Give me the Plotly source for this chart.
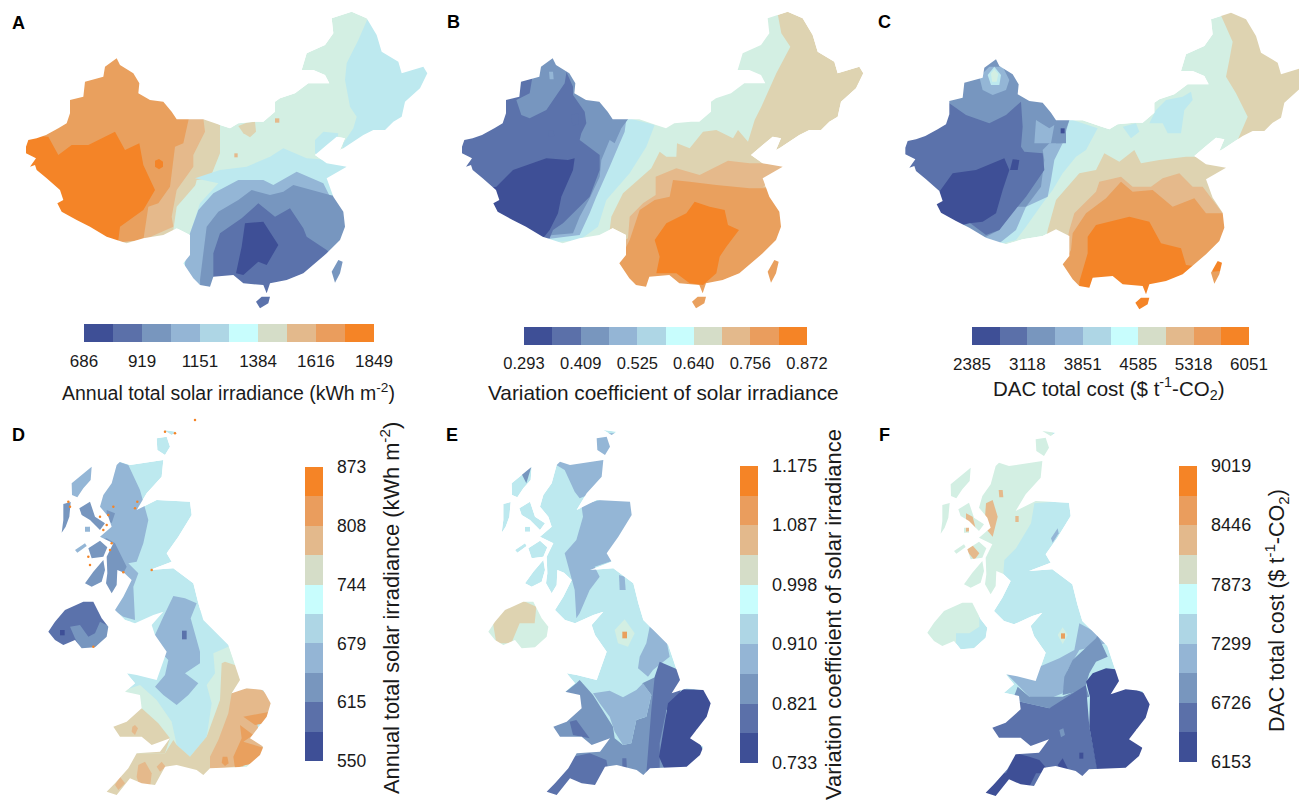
import plotly.graph_objects as go

MAP_COLORS = ["#3e4f96", "#5b72ab", "#7796bf", "#94b6d6", "#bde9ef", "#d3efe3", "#ded3b1", "#e5b98b", "#e9a05e", "#f48427"]
BAR_COLORS = ["#3e4f96", "#5b70a9", "#7896be", "#94b5d5", "#aed6e5", "#c8fdfd", "#d5ddc8", "#e3b98c", "#ea9d5d", "#f58426"]
TICKS_A = [686, 919, 1151, 1384, 1616, 1849]
TICKS_B = ["0.293", "0.409", "0.525", "0.640", "0.756", "0.872"]
TICKS_C = [2385, 3118, 3851, 4585, 5318, 6051]
TICKS_D = [550, 615, 679, 744, 808, 873]
TICKS_E = ["0.733", "0.821", "0.910", "0.998", "1.087", "1.175"]
TICKS_F = [6153, 6726, 7299, 7873, 8446, 9019]

CHINA_MAIN = [(78,440),(85,420),(110,415),(138,405),(175,385),(200,370),(210,340),(210,300),(250,290),(255,245),(310,230),(315,200),(350,175),(360,195),(400,220),(418,250),(415,280),(450,300),(490,305),(515,335),(530,358),(570,358),(610,358),(660,375),(690,385),(715,370),(765,365),(790,365),(825,335),(825,305),(840,295),(885,280),(925,250),(988,250),(975,225),(940,210),(905,210),(920,160),(975,135),(1000,100),(995,55),(1055,35),(1100,55),(1130,105),(1145,155),(1195,185),(1205,220),(1270,200),(1282,220),(1260,265),(1215,305),(1205,350),(1180,365),(1155,390),(1120,390),(1090,405),(1030,445),(1020,450),(1035,415),(1010,410),(980,435),(945,465),(980,490),(1040,500),(980,535),(1000,590),(1030,635),(1035,680),(1020,720),(980,760),(910,820),(860,840),(810,850),(800,880),(790,855),(730,850),(700,825),(640,830),(630,860),(600,855),(580,835),(550,790),(570,765),(570,705),(530,685),(490,705),(430,715),(380,730),(350,720),(320,710),(270,680),(230,660),(185,635),(172,610),(190,600),(180,570),(140,535),(110,510),(105,495),(90,500),(108,475),(78,460)]
CHINA_HAINAN = [(768,905),(785,890),(810,890),(805,910),(780,925)]
CHINA_TAIWAN = [(995,815),(1015,780),(1028,785),(1020,820),(1005,848)]
CHINA = [CHINA_MAIN, CHINA_HAINAN, CHINA_TAIWAN]

UK_MAIN = [(360,155),(390,165),(490,150),(485,200),(440,250),(410,300),(470,270),(570,275),(575,315),(535,380),(500,430),(515,455),(450,480),(520,475),(580,520),(595,580),(610,630),(685,705),(705,765),(720,810),(695,850),(740,835),(790,840),(812,880),(800,920),(765,965),(750,985),(790,1010),(780,1035),(740,1070),(630,1075),(610,1095),(590,1080),(530,1065),(495,1070),(465,1125),(425,1120),(390,1105),(350,1155),(320,1145),(345,1120),(385,1075),(410,1030),(480,1025),(510,985),(455,1005),(425,980),(360,980),(340,950),(380,935),(425,895),(420,855),(375,845),(405,820),(380,790),(410,795),(470,810),(500,725),(465,675),(455,645),(490,605),(460,615),(405,640),(375,630),(345,600),(370,560),(395,510),(372,488),(352,480),(350,525),(335,550),(318,520),(322,490),(320,440),(340,400),(300,380),(335,350),(325,320),(300,290),(310,255),(335,220),(350,165)]
UK_NI = [(145,665),(165,635),(195,600),(250,575),(280,575),(305,625),(325,650),(320,680),(285,712),(245,715),(225,690),(190,705),(165,690)]
UK_OUTER_HEB = [(190,282),(212,276),(208,320),(197,350),(185,368),(190,330)]
UK_SKYE = [(238,295),(270,275),(285,320),(315,340),(300,360),(270,330),(245,315)]
UK_MULL = [(265,415),(300,392),(322,412),(310,440),(275,445)]
UK_ISLET = [(225,420),(255,400),(260,408),(232,428)]
UK_RUM = [(255,350),(270,350),(270,365),(255,365)]
UK_JURA = [(255,520),(280,485),(310,450),(315,480),(305,515),(275,530)]
UK_LEWIS = [(215,220),(245,195),(275,170),(272,210),(250,235),(232,262),(216,255)]
UK_ORKNEY = [(470,85),(500,80),(510,110),(495,135),(472,120)]
UK_SHETLAND = [(490,60),(530,65),(515,75)]
UK = [UK_MAIN, UK_NI, UK_OUTER_HEB, UK_SKYE, UK_MULL, UK_ISLET, UK_RUM, UK_JURA, UK_LEWIS, UK_ORKNEY, UK_SHETLAND]

REGIONS_A = [
 (4,[(1110,40),(1340,40),(1340,460),(1025,460),(1030,430),(1060,385),(1070,350),(1050,320),(1035,240),(1040,190),(1075,120)]),
 (4,[(945,460),(945,420),(970,395),(1015,400),(1010,430),(970,470)]),
 (6,[(715,378),(740,368),(765,365),(768,395),(750,412),(730,400)]),
 (7,[(825,355),(838,355),(838,368),(825,368)]),
 (7,[(703,460),(713,460),(713,472),(703,472)]),
 (6,[(615,350),(660,375),(660,460),(630,535),(590,540),(570,620),(550,650),(525,655),(525,690),(400,760),(0,760),(0,340)]),
 (7,[(575,350),(610,355),(615,395),(580,465),(580,500),(530,570),(515,650),(520,680),(430,720),(0,760),(0,340)]),
 (8,[(570,340),(550,430),(525,440),(510,560),(475,610),(445,620),(430,720),(0,760),(0,100),(570,100)]),
 (9,[(0,400),(145,410),(175,465),(215,435),(265,435),(345,395),(375,450),(418,430),(430,495),(465,570),(430,630),(360,680),(350,760),(0,760)]),
 (9,[(465,482),(477,477),(489,485),(489,500),(477,508),(465,500)]),
 (4,[(585,535),(660,510),(740,500),(810,470),(850,445),(920,475),(990,480),(1040,495),(1060,950),(540,950),(550,790),(570,700),(600,610),(655,550)]),
 (5,[(530,620),(600,540),(590,620),(555,680),(520,690)]),
 (3,[(595,630),(640,580),(715,540),(790,540),(820,555),(890,515),(970,550),(990,590),(1060,620),(1060,950),(555,950),(555,790),(570,700)]),
 (2,[(620,680),(655,635),(715,600),(755,570),(810,585),(850,575),(880,555),(990,585),(1060,600),(1060,950),(605,950),(600,840)]),
 (1,[(640,760),(660,700),(725,655),(775,610),(825,650),(870,625),(910,685),(920,710),(980,750),(1000,770),(900,950),(640,950),(640,830)]),
 (0,[(735,670),(790,665),(835,735),(800,795),(775,785),(730,825),(708,820),(725,740)]),
]
REGIONS_B = [
 (5,[(1030,20),(1045,100),(1072,140),(1030,220),(985,320),(965,360),(945,425),(915,390),(900,415),(850,390),(810,395),(770,445),(732,430),(730,470),(700,470),(680,455),(655,505),(570,580),(535,650),(530,690),(400,760),(0,760),(0,0),(1030,0)]),
 (4,[(588,355),(665,375),(640,440),(590,520),(520,600),(495,680),(440,720),(0,760),(0,0),(588,0)]),
 (3,[(580,358),(575,395),(560,430),(530,500),(490,590),(470,640),(440,705),(0,760),(0,0),(580,0)]),
 (2,[(585,358),(565,385),(545,430),(530,420),(505,480),(500,530),(470,595),(440,650),(420,700),(360,705),(0,760),(0,0),(585,0)]),
 (1,[(0,0),(400,0),(400,215),(420,260),(420,285),(455,335),(460,370),(445,400),(440,420),(500,465),(500,510),(470,590),(390,670),(360,690),(350,715),(0,760)]),
 (2,[(250,300),(290,280),(300,220),(330,100),(420,100),(395,250),(340,330),(290,355),(265,345)]),
 (3,[(348,215),(360,215),(362,238),(350,238)]),
 (1,[(415,345),(435,340),(438,372),(418,378)]),
 (1,[(346,392),(362,392),(364,410),(348,410)]),
 (1,[(348,458),(362,458),(362,480),(348,480)]),
 (0,[(120,570),(190,560),(240,510),(340,475),(405,480),(425,475),(420,510),(385,590),(375,640),(350,690),(330,715),(0,760)]),
 (7,[(585,715),(590,650),(630,610),(668,585),(668,530),(730,505),(800,525),(885,482),(950,490),(1050,490),(1050,520),(990,560),(1100,560),(1100,950),(540,950),(540,740)]),
 (8,[(720,540),(770,545),(850,555),(950,565),(1000,565),(1100,600),(1100,950),(540,950),(555,790),(590,720),(620,630),(665,600),(710,590)]),
 (9,[(665,720),(700,670),(760,640),(785,605),(830,620),(875,630),(885,675),(918,690),(880,740),(860,770),(850,820),(810,855),(770,850),(730,820),(670,820),(680,770)]),
]
REGIONS_C = [
 (4,[(870,330),(900,300),(950,290),(975,275),(980,300),(955,330),(945,400),(905,400),(890,370),(850,370)]),
 (4,[(770,380),(810,370),(820,395),(795,415)]),
 (6,[(1060,35),(1100,125),(1090,180),(1080,230),(1110,280),(1145,350),(1115,420),(1140,440),(1340,440),(1340,0),(1060,0)]),
 (6,[(545,690),(570,600),(640,520),(690,510),(715,460),(760,485),(805,450),(825,490),(880,480),(960,470),(1000,470),(1100,490),(1100,950),(500,950)]),
 (4,[(620,360),(695,385),(660,450),(630,470),(590,520),(560,570),(530,610),(480,680),(450,720),(300,760),(0,760),(0,0),(620,0)]),
 (3,[(610,360),(590,430),(565,480),(555,540),(545,590),(480,620),(450,690),(400,730),(0,760),(0,0),(610,0)]),
 (2,[(610,360),(585,430),(550,430),(530,450),(535,480),(525,560),(480,620),(450,620),(400,690),(360,710),(0,760),(0,0),(610,0)]),
 (3,[(510,360),(550,385),(565,375),(555,430),(505,430)]),
 (1,[(0,300),(250,310),(300,345),(370,370),(420,345),(465,305),(470,380),(465,440),(475,455),(530,460),(535,510),(480,590),(455,620),(400,690),(360,705),(300,660),(0,600)]),
 (3,[(340,230),(370,200),(410,200),(430,240),(420,270),(380,285),(350,270)]),
 (4,[(365,225),(385,200),(405,225),(400,255),(375,255)]),
 (5,[(375,220),(385,208),(397,222),(392,245),(378,245)]),
 (2,[(570,400),(600,365),(600,430),(570,430)]),
 (0,[(584,385),(596,385),(596,400),(584,400)]),
 (0,[(220,575),(260,520),(330,510),(415,475),(430,510),(410,570),(390,640),(350,665),(310,670),(270,680),(210,640),(100,580)]),
 (0,[(432,510),(440,478),(460,480),(455,510)]),
 (7,[(610,690),(625,640),(690,575),(700,545),(765,530),(800,560),(855,560),(890,535),(940,520),(980,560),(1010,560),(1070,640),(1100,950),(560,950)]),
 (8,[(590,795),(615,750),(620,700),(660,640),(720,595),(765,545),(800,575),(860,570),(920,620),(985,595),(1020,640),(1075,640),(1100,950),(550,950)]),
 (9,[(640,845),(665,760),(665,710),(690,675),(790,650),(850,665),(885,730),(945,745),(960,795),(1000,800),(950,840),(880,950),(640,950)]),
 (9,[(1040,790),(1090,770),(1090,810),(1040,815)]),
]
REGIONS_D = [
 (5,[(685,705),(720,800),(750,1100),(300,1180),(300,850),(375,840),(420,825)]),
 (4,[(385,790),(420,825),(470,870),(515,935),(530,1005),(570,1040),(620,980),(635,880),(620,825),(645,790),(640,730),(685,710),(700,600),(400,600),(380,700)]),
 (6,[(425,895),(475,940),(510,985),(495,1030),(400,1030),(320,1000),(320,940)]),
 (6,[(675,755),(720,770),(730,810),(695,850),(730,1030),(730,1180),(300,1180),(300,1130),(405,1030),(495,1030),(520,990),(530,1005),(570,1040),(620,980),(660,870),(665,760)]),
 (7,[(695,850),(720,835),(780,835),(820,870),(810,920),(770,935),(790,1020),(770,1060),(630,1080),(630,1040),(655,990),(685,910)]),
 (7,[(415,1065),(435,1055),(455,1090),(450,1135),(420,1135),(410,1100)]),
 (7,[(360,1100),(375,1120),(355,1140),(345,1125)]),
 (7,[(470,1070),(485,1055),(497,1070),(480,1085)]),
 (7,[(397,950),(405,945),(414,955),(405,975),(395,965)]),
 (8,[(730,920),(810,905),(795,940),(765,945)]),
 (8,[(720,945),(760,975),(730,995),(795,1015),(770,1055),(705,1075),(700,1040),(725,985)]),
 (8,[(668,1040),(682,1040),(686,1060),(675,1068),(665,1058)]),
 (3,[(340,150),(385,165),(420,240),(445,330),(430,400),(410,455),(385,460),(415,490),(400,530),(405,630),(370,620),(340,600),(200,600),(150,300),(180,150)]),
 (2,[(230,270),(290,270),(320,345),(300,365),(230,330)]),
 (2,[(180,270),(220,270),(215,370),(180,370)]),
 (2,[(250,535),(260,400),(320,385),(345,400),(380,470),(370,490),(345,555),(310,555)]),
 (2,[(320,300),(345,310),(335,340),(320,330)]),
 (3,[(520,558),(555,565),(590,580),(572,625),(600,725),(600,760),(555,790),(595,820),(565,855),(530,885),(490,855),(465,830),(495,795),(505,750),(485,730),(465,675),(490,620)]),
 (1,[(546,662),(560,662),(560,688),(546,688)]),
 (1,[(130,720),(130,560),(340,560),(340,720)]),
 (2,[(210,650),(240,645),(265,680),(285,670),(300,635),(330,650),(330,720),(245,720),(225,685)]),
 (0,[(180,660),(194,660),(194,676),(180,676)]),
]
REGIONS_E = [
 (3,[(370,165),(395,180),(425,245),(440,265),(530,230),(520,140),(370,140)]),
 (3,[(445,285),(520,265),(620,265),(610,360),(545,450),(485,470),(500,500),(470,540),(440,610),(430,625),(425,540),(395,430),(430,390),(450,320)]),
 (3,[(480,70),(550,70),(540,140),(480,140)]),
 (2,[(265,190),(295,170),(280,220)]),
 (3,[(558,495),(575,500),(578,540),(560,540)]),
 (5,[(150,560),(350,560),(350,720),(150,720)]),
 (6,[(180,640),(210,600),(270,572),(310,590),(305,640),(260,640),(235,700),(190,700)]),
 (5,[(545,660),(575,628),(605,670),(585,710),(555,700)]),
 (8,[(568,665),(582,665),(582,685),(568,685)]),
 (3,[(650,650),(700,690),(710,740),(660,780),(645,800),(615,775),(620,740),(640,700)]),
 (2,[(430,820),(440,810),(480,855),(540,950),(545,985),(570,1005),(595,1000),(610,930),(640,920),(655,855),(628,820),(700,785),(700,1110),(520,1110),(330,1090),(330,900)]),
 (3,[(480,850),(530,842),(570,862),(610,840),(630,820),(655,855),(640,920),(610,930),(595,1000),(570,1005),(545,965),(530,920),(500,880)]),
 (1,[(680,755),(760,790),(730,880),(700,900),(680,1000),(680,1090),(640,1090),(655,900),(665,800)]),
 (1,[(420,1040),(470,1030),(520,1050),(525,1075),(515,1095),(510,1160),(440,1165),(400,1180),(320,1170),(350,1110),(400,1080)]),
 (1,[(410,935),(430,930),(470,985),(420,975)]),
 (1,[(568,1045),(580,1045),(582,1080),(568,1082)]),
 (0,[(705,880),(750,838),(850,840),(850,920),(790,960),(800,1000),(830,1060),(700,1090),(678,1040)]),
]
REGIONS_F = [
 (5,[(150,60),(560,60),(560,275),(505,280),(495,340),(450,415),(415,450),(410,520),(380,560),(340,590),(150,560)]),
 (5,[(170,560),(340,560),(340,650),(310,670),(270,670),(270,730),(170,730)]),
 (7,[(360,280),(380,270),(395,320),(380,380),(355,350)]),
 (7,[(300,310),(320,320),(330,360),(300,365)]),
 (7,[(310,395),(340,430),(325,450),(300,420)]),
 (7,[(398,240),(410,240),(412,262),(400,262)]),
 (7,[(448,318),(458,318),(458,336),(448,336)]),
 (5,[(575,675),(590,652),(605,675),(590,702)]),
 (8,[(585,670),(597,670),(597,686),(585,686)]),
 (3,[(640,640),(695,670),(720,700),(640,720),(605,780),(590,850),(540,870),(490,860),(450,820),(400,770),(520,770),(580,745),(625,720)]),
 (2,[(695,675),(725,740),(690,755),(670,790),(655,840),(590,855),(595,800),(620,750),(690,685)]),
 (2,[(455,830),(490,860),(590,860),(660,830),(670,860),(550,895),(440,870)]),
 (3,[(555,385),(575,355),(578,370),(560,398)]),
 (1,[(370,950),(440,870),(550,895),(660,825),(670,950),(695,1080),(610,1120),(300,1200),(300,1000)]),
 (0,[(660,815),(680,790),(720,775),(770,780),(770,830),(800,835),(860,860),(860,930),(810,960),(840,1040),(760,1090),(695,1090),(670,950),(672,860)]),
 (0,[(420,1090),(450,1030),(490,1040),(520,1050),(555,1090),(510,1090),(480,1150),(440,1150),(390,1180),(320,1180),(350,1130),(400,1090)]),
 (0,[(575,1065),(590,1045),(605,1075),(590,1100)]),
 (0,[(640,1028),(652,1028),(652,1046),(640,1046)]),
 (2,[(580,960),(592,955),(597,975),(585,982)]),
]
SPECKLE_D_X = [495,525,412,405,340,325,310,265,205,335,300,320,370,455,270,210,585,280,330]
SPECKLE_D_Y = [65,70,275,295,290,315,360,440,275,400,320,345,487,480,465,290,30,710,420]

FONT = "Liberation Sans, Arial, sans-serif"
W, H = 1299, 800
PANELS = [
 dict(px=0,   py=0,   w=433, h=410, shape=CHINA, dx=0,  dy=0, base=5, regions=REGIONS_A),
 dict(px=433, py=0,   w=433, h=410, shape=CHINA, dx=9,  dy=0, base=6, regions=REGIONS_B),
 dict(px=866, py=0,   w=433, h=410, shape=CHINA, dx=40, dy=3, base=5, regions=REGIONS_C),
 dict(px=0,   py=410, w=433, h=390, shape=UK,    dx=0,  dy=0, base=4, regions=REGIONS_D),
 dict(px=433, py=410, w=433, h=390, shape=UK,    dx=21, dy=0, base=4, regions=REGIONS_E),
 dict(px=866, py=410, w=433, h=390, shape=UK,    dx=39, dy=3, base=4, regions=REGIONS_F),
]
BARS = [
 dict(ticks=TICKS_A, x=84,   y=324, length=290, h=True,  size=17),
 dict(ticks=TICKS_B, x=524,  y=327, length=283, h=True,  size=16.5),
 dict(ticks=TICKS_C, x=972,  y=327, length=277, h=True,  size=17),
 dict(ticks=TICKS_D, x=305,  y=467, length=294, h=False, size=17.5),
 dict(ticks=TICKS_E, x=740,  y=466, length=297, h=False, size=18),
 dict(ticks=TICKS_F, x=1179, y=466, length=296, h=False, size=18),
]
TITLES = [
 ("Annual total solar irradiance (kWh m<sup>-2</sup>)", 228, 392, 0, 19.5),
 ("Variation coefficient of solar irradiance", 663, 392, 0, 20.8),
 ("DAC total cost ($ t<sup>-1</sup>-CO<sub>2</sub>)", 1109, 388, 0, 20.5),
 ("Annual total solar irradiance (kWh m<sup>-2</sup>)", 390, 608, -90, 21.8),
 ("Variation coefficient of solar irradiance", 833, 615, -90, 22),
 ("DAC total cost ($ t<sup>-1</sup>-CO<sub>2</sub>)", 1276, 611, -90, 21.5),
]
LETTERS = [("A",18,23),("B",453,22),("C",884,22),("D",18,435),("E",452,435),("F",884,435)]


def area(r):
    return sum(r[i][0]*r[(i+1) % len(r)][1]-r[(i+1) % len(r)][0]*r[i][1] for i in range(len(r)))


def rings_xy(rings, dx, dy, sign):
    xs, ys = [], []
    for r in rings:
        pts = r if area(r)*sign > 0 else r[::-1]
        xs += [p[0]+dx for p in pts]+[None]
        ys += [p[1]+dy for p in pts]+[None]
    return xs, ys


def poly(x, y, color, ax):
    return go.Scatter(x=x, y=y, mode="lines", fill="toself", fillcolor=color,
                      line=dict(width=0, color=color, simplify=False), hoverinfo="skip",
                      showlegend=False, xaxis="x"+ax, yaxis="y"+ax)


fig = go.Figure()
layout = {}
for i, p in enumerate(PANELS):
    ax = "" if i == 0 else str(i+1)
    X, Y = p["w"]*3, p["h"]*3
    layout["xaxis"+ax] = dict(domain=[p["px"]/W, (p["px"]+p["w"])/W], range=[0, X], visible=False,
                              fixedrange=True, anchor="y"+ax)
    layout["yaxis"+ax] = dict(domain=[1-(p["py"]+p["h"])/H, 1-p["py"]/H], range=[Y, 0], visible=False,
                              fixedrange=True, anchor="x"+ax)
    xs, ys = rings_xy(p["shape"], p["dx"], p["dy"], 1)
    fig.add_trace(poly(xs, ys, MAP_COLORS[p["base"]], ax))
    for band, pts in p["regions"]:
        fig.add_trace(poly([q[0] for q in pts], [q[1] for q in pts], MAP_COLORS[band], ax))
    # white page around the outline clips the contour bands to the land
    mx, my = rings_xy([[(-20, -20), (X+20, -20), (X+20, Y+20), (-20, Y+20)]], 0, 0, -1)
    fig.add_trace(poly(mx+xs, my+ys, "white", ax))
    if i == 3:
        fig.add_trace(go.Scatter(x=SPECKLE_D_X, y=SPECKLE_D_Y, mode="markers", hoverinfo="skip", showlegend=False,
                                 marker=dict(size=2.5, color=MAP_COLORS[9]), xaxis="x"+ax, yaxis="y"+ax))

for i, b in enumerate(BARS):
    ax = "" if i == 0 else str(i+1)
    vals = [float(t) for t in b["ticks"]]
    lo, hi = vals[0], vals[-1]
    n = len(BAR_COLORS)
    scale = []
    for k, c in enumerate(BAR_COLORS):
        scale += [[k/n, c], [(k+1)/n, c]]
    cb = dict(thickness=18, thicknessmode="pixels", len=b["length"], lenmode="pixels", xpad=0, ypad=0,
              tickmode="array", tickvals=vals, ticktext=[str(t) for t in b["ticks"]], outlinewidth=0, borderwidth=0,
              ticks="outside", ticklen=5 if b["h"] else 11, tickcolor="rgba(0,0,0,0)",
              tickfont=dict(family=FONT, size=b["size"], color="#1a1a1a"),
              x=b["x"]/W, y=1-b["y"]/H, xanchor="left", yanchor="top", orientation="h" if b["h"] else "v")
    fig.add_trace(go.Scatter(x=[None], y=[None], mode="markers", hoverinfo="skip", showlegend=False,
                             xaxis="x"+ax, yaxis="y"+ax,
                             marker=dict(color=[lo], cmin=lo, cmax=hi, colorscale=scale, showscale=True, colorbar=cb)))

ann = []
for text, x, y, ang, size in TITLES:
    ann.append(dict(text=text, x=x/W, y=1-y/H, xref="paper", yref="paper", xanchor="center", yanchor="middle",
                    showarrow=False, textangle=ang, font=dict(family=FONT, size=size, color="#1a1a1a")))
for text, x, y in LETTERS:
    ann.append(dict(text="<b>"+text+"</b>", x=x/W, y=1-y/H, xref="paper", yref="paper", xanchor="center", yanchor="middle",
                    showarrow=False, font=dict(family=FONT, size=18, color="black")))

fig.update_layout(width=W, height=H, margin=dict(l=0, r=0, t=0, b=0), autosize=False,
                  paper_bgcolor="white", plot_bgcolor="white", showlegend=False, annotations=ann, **layout)
fig.write_html("out.html", config={"displayModeBar": False},
               post_script="document.body.style.margin='0';document.documentElement.style.overflow='hidden';")
